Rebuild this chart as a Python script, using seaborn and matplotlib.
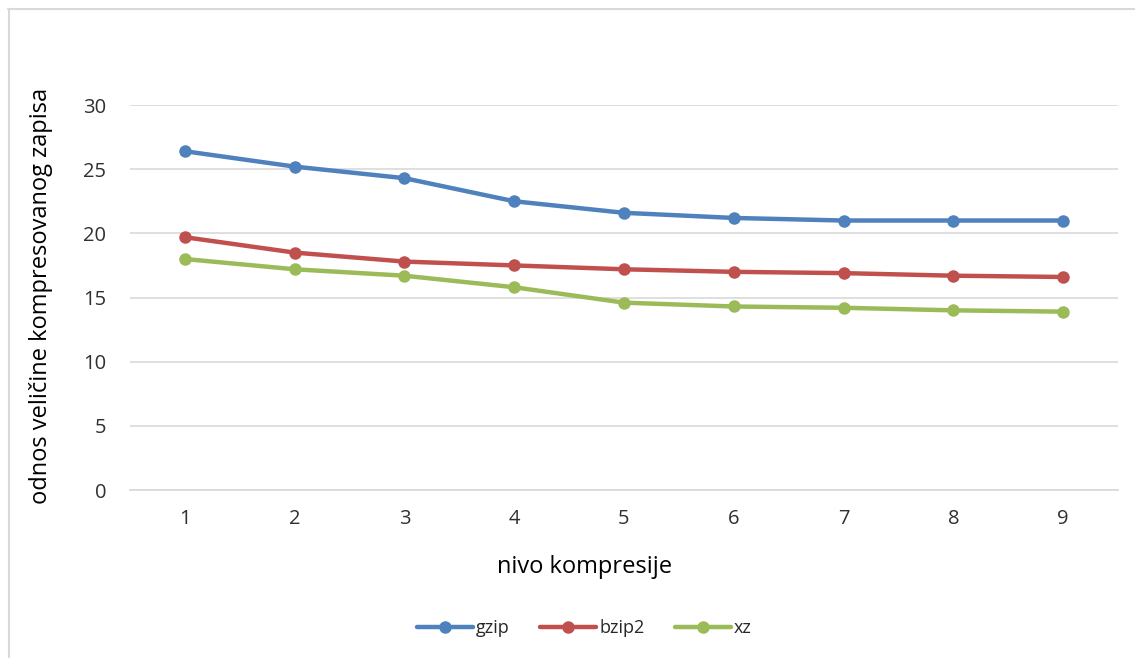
import matplotlib
matplotlib.use("Agg")
import matplotlib.pyplot as plt
from matplotlib.lines import Line2D
import seaborn as sns
import pandas as pd

# Compression levels and ratio of compressed size per tool
levels = [1, 2, 3, 4, 5, 6, 7, 8, 9]
gzip_vals = [26.4, 25.2, 24.3, 22.5, 21.6, 21.2, 21.0, 21.0, 21.0]
bzip2_vals = [19.7, 18.5, 17.8, 17.5, 17.2, 17.0, 16.9, 16.7, 16.6]
xz_vals = [18.0, 17.2, 16.7, 15.8, 14.6, 14.3, 14.2, 14.0, 13.9]
series_names = ["gzip", "bzip2", "xz"]
colors = ["#4F81BD", "#C0504D", "#9BBB59"]
y_ticks = [0, 5, 10, 15, 20, 25, 30]

df = pd.DataFrame({
    "nivo": levels * 3,
    "odnos": gzip_vals + bzip2_vals + xz_vals,
    "alat": sum([[n] * len(levels) for n in series_names], []),
})

sns.set_theme(style="white")
plt.rcParams["font.family"] = ["Open Sans", "DejaVu Sans"]

fig = plt.figure(figsize=(11.35, 6.58), dpi=100)
ax = fig.add_axes([0.1145, 0.2553, 0.8705, 0.5851])

sns.lineplot(data=df, x="nivo", y="odnos", hue="alat", hue_order=series_names,
             palette=colors, marker="o", markersize=9, markeredgewidth=0,
             linewidth=3.2, ax=ax, legend=False)

ax.set_xlim(0.5, 9.5)
ax.set_ylim(0, 30)
ax.set_yticks(y_ticks)
ax.set_xticks(levels)
ax.yaxis.grid(True, color="#D9D9D9", linewidth=1.2)
ax.xaxis.grid(False)
for side in ["top", "right", "left"]:
    ax.spines[side].set_visible(False)
ax.spines["bottom"].set_color("#D9D9D9")
ax.spines["bottom"].set_linewidth(1.2)
ax.tick_params(axis="both", length=0, labelsize=14.5, colors="#303030")
ax.tick_params(axis="x", pad=14)
ax.tick_params(axis="y", pad=17)
ax.set_xlabel("nivo kompresije", fontsize=17, color="black")
ax.set_ylabel("odnos veličine kompresovanog zapisa", fontsize=17, color="black")
ax.xaxis.set_label_coords(0.46, -0.17)
ax.yaxis.set_label_coords(-0.078, 0.505)

handles = [Line2D([0], [0], color=c, linewidth=3.2, marker="o", markersize=9,
                  markeredgewidth=0) for c in colors]
fig.legend(handles, series_names, loc="center", bbox_to_anchor=(0.515, 0.045),
           ncol=3, frameon=False, fontsize=13, handlelength=3.1,
           columnspacing=1.7, handletextpad=0.15)

# Light frame along the top and left edges
fig.add_artist(Line2D([8 / 1135, 1.0], [1 - 9 / 658, 1 - 9 / 658],
                      transform=fig.transFigure, color="#D9D9D9", linewidth=1.5))
fig.add_artist(Line2D([9 / 1135, 9 / 1135], [0.0, 1 - 9 / 658],
                      transform=fig.transFigure, color="#D9D9D9", linewidth=1.5))

fig.savefig("out.png", dpi=100)
